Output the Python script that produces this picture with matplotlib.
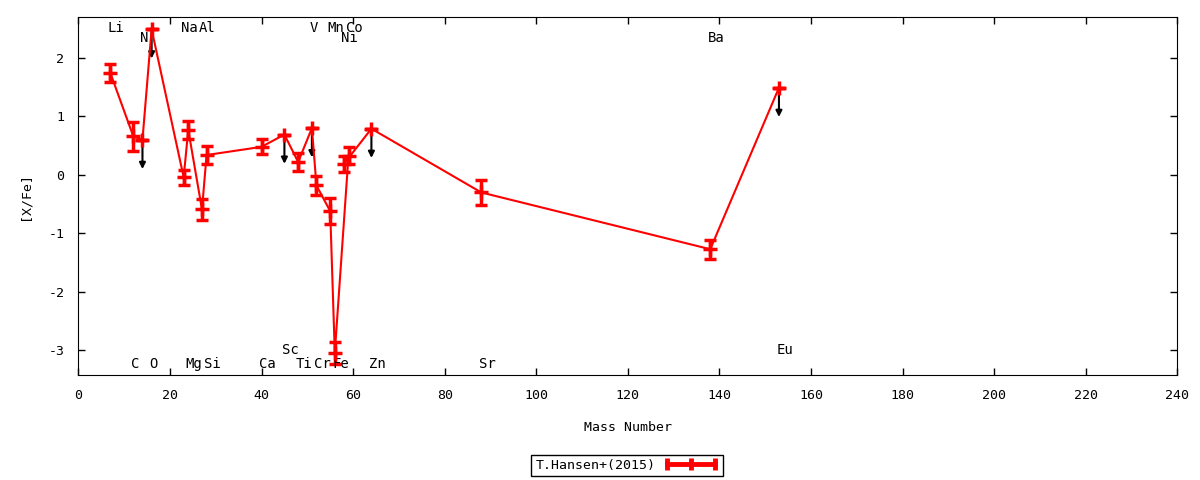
import matplotlib.pyplot as plt
from matplotlib.lines import Line2D

# element, mass number, [X/Fe], error (0 for upper limits)
elements = ['Li', 'C', 'N', 'O', 'Na', 'Mg', 'Al', 'Si', 'Ca', 'Sc', 'Ti',
            'V', 'Cr', 'Mn', 'Fe', 'Co', 'Ni', 'Zn', 'Sr', 'Ba', 'Eu']
mass = [7, 12, 14, 16, 23, 24, 27, 28, 40, 45, 48,
        51, 52, 55, 56, 59, 58, 64, 88, 138, 153]
xfe = [1.74, 0.66, 0.60, 2.49, -0.04, 0.77, -0.59, 0.34, 0.48, 0.69, 0.22,
       0.80, -0.18, -0.62, -3.04, 0.33, 0.19, 0.79, -0.30, -1.27, 1.49]
err = [0.15, 0.25, 0.0, 0.0, 0.13, 0.15, 0.18, 0.16, 0.13, 0.0, 0.15,
       0.0, 0.17, 0.22, 0.19, 0.14, 0.14, 0.0, 0.21, 0.16, 0.0]
upper_limit = ['N', 'O', 'Sc', 'V', 'Zn', 'Eu']

# label rows: where the element name sits
label_row = {'Li': 'top', 'Na': 'top', 'Al': 'top', 'V': 'top', 'Mn': 'top', 'Co': 'top',
             'N': 'top2', 'Ni': 'top2', 'Ba': 'top2',
             'Sc': 'bot2', 'Eu': 'bot2'}
row_y = {'top': 2.51, 'top2': 2.34, 'bot': -3.23, 'bot2': -2.99}

plt.rcParams['font.family'] = ['DejaVu Sans Mono']
plt.rcParams['font.size'] = 9.5

fig = plt.figure(figsize=(12, 4.8), dpi=100)
ax = fig.add_axes([0.0653, 0.2188, 0.9158, 0.7458])

ax.errorbar(mass, xfe, yerr=err, fmt='-+', color='red', lw=1.5,
            elinewidth=2.5, capsize=4, capthick=2.5, markersize=10, mew=2.5,
            zorder=3)

for el, m, v in zip(elements, mass, xfe):
    if el in upper_limit:
        ax.annotate('', xy=(m, v - 0.5), xytext=(m, v),
                    arrowprops=dict(arrowstyle='-|>', color='black', lw=1.5,
                                    mutation_scale=9, shrinkA=0, shrinkB=0),
                    zorder=2)
    ax.text(m - 0.6, row_y[label_row.get(el, 'bot')], el, ha='left', va='center',
            fontsize=10)

ax.set_xlim(0, 240)
ax.set_ylim(-3.42, 2.70)
ax.set_xticks(range(0, 241, 20))
ax.set_yticks([-3, -2, -1, 0, 1, 2])
ax.set_yticklabels(['-3', '-2', '-1', '0', '1', '2'])
ax.tick_params(direction='in', top=True, right=True, length=5, width=1, pad=10)
ax.set_xlabel('Mass Number', labelpad=14)
ax.set_ylabel('[X/Fe]', labelpad=12)

# gnuplot-style key sample: thick line with bars at the ends and middle
handle = Line2D([], [], color='red', lw=3.5, marker='|', markersize=9, mew=3.5)
leg = fig.legend([handle], ['T.Hansen+(2015)'], loc='center',
                 bbox_to_anchor=(0.5225, 0.031), fancybox=False,
                 edgecolor='black', framealpha=1, markerfirst=False,
                 numpoints=3, handlelength=4.2, borderpad=0.3, borderaxespad=0,
                 handletextpad=0.6)
leg.get_frame().set_linewidth(1)

plt.savefig('out.png', dpi=100)
